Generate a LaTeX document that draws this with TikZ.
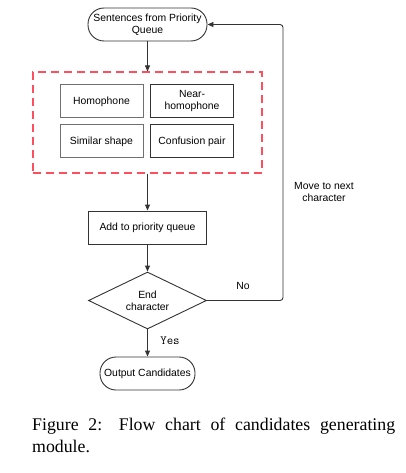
\documentclass[tikz,border=0pt]{standalone}
\usepackage{fontspec}
\setmainfont{Liberation Serif}
\setsansfont{Liberation Sans}
\usetikzlibrary{shapes.geometric,arrows.meta}
\definecolor{lnc}{HTML}{333333}
\definecolor{grayb}{HTML}{707070}
\definecolor{dashred}{HTML}{FF4F5E}
\tikzset{
  every node/.style={font=\sffamily\fontsize{10.4}{12}\selectfont, inner sep=0pt},
  term/.style={draw=lnc, line width=0.9pt, rounded corners=16pt, minimum height=33pt, align=center},
  box/.style={draw=lnc, line width=1pt, minimum width=83pt, minimum height=33pt, align=center},
  pbox/.style={draw=lnc, line width=0.9pt, minimum width=118pt, minimum height=33pt, align=center},
  dia/.style={draw=lnc, line width=0.9pt, diamond, aspect=2.07, minimum width=118pt, minimum height=57pt, align=center},
  arr/.style={draw=lnc, line width=0.9pt, -{Triangle[length=6pt,width=5pt]}},
  grpbox/.style={draw=dashred, line width=1.1pt, dash pattern=on 8pt off 5pt, minimum width=229pt, minimum height=101pt},
  lbl/.style={align=center}
}
\begin{document}
\begin{tikzpicture}[x=1pt,y=-1pt]
\useasboundingbox (0,0) rectangle (406,473);
\node[term, minimum width=119pt] (top) at (147.5,24.5) {Sentences from Priority\\Queue};
\node[grpbox] (grp) at (147.5,122.5) {};
\node[box, draw=grayb] (h) at (101.5,101.5) {Homophone};
\node[box] (nh) at (192,101.5) {Near-\\homophone};
\node[box, draw=grayb] (ss) at (101.5,141.5) {Similar shape};
\node[box] (cp) at (192,141.5) {Confusion pair};
\node[pbox] (add) at (147.5,227.5) {Add to priority queue};
\node[dia] (end) at (147.5,300.5) {End\\character};
\node[term, minimum width=95pt] (out) at (147.5,373.5) {Output Candidates};
\coordinate (c1) at (283,300.5);
\coordinate (c2) at (283,24.5);
\draw[arr] (top) -- (grp);
\draw[arr] (grp) -- (add);
\draw[arr] (add) -- (end);
\draw[arr] (end) -- (out);
\draw[arr, rounded corners=3pt] (end.east) -- (c1) -- (c2) -- (top.east);
\node[lbl] (no) at (243,286) {No};
\node[lbl] (mv) at (324,191.5) {Move to next\\character};
\node[font=\ttfamily\fontsize{12.5}{13}\selectfont] (yes) at (170,341) {Yes};
\node[anchor=base west, font=\rmfamily] (cap) at (32,430) {\parbox[t]{363pt}{\fontsize{17.8}{22.5}\selectfont\hyphenpenalty=10000\exhyphenpenalty=10000\emergencystretch=50pt Figure 2: Flow chart of candidates generating module.}};
\end{tikzpicture}
\end{document}
